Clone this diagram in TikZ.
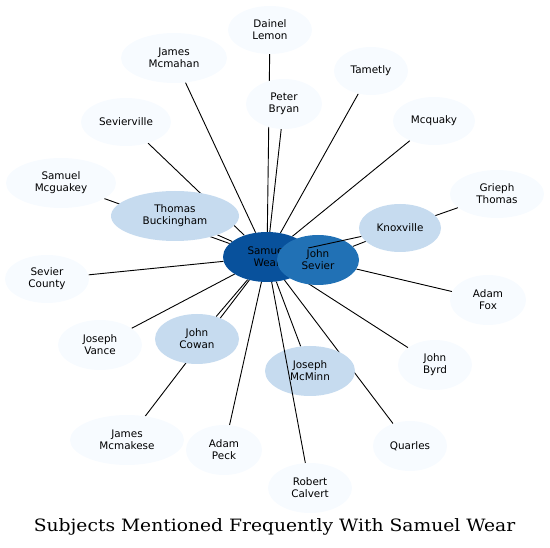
\documentclass[tikz,border=0pt]{standalone}
\usepackage{fontspec}
\setsansfont{DejaVu Sans}
\newfontfamily\titlefont{DejaVu Serif}
\usetikzlibrary{shapes.geometric}
\definecolor{pale}{HTML}{F7FBFF}
\definecolor{light}{HTML}{C6DBEF}
\definecolor{mid}{HTML}{2171B5}
\definecolor{deep}{HTML}{08519C}
\pgfdeclarelayer{bg}
\pgfsetlayers{bg,main}
\tikzset{
  nd/.style={ellipse, fill=pale, draw=none, inner sep=0pt, align=center,
    font=\sffamily\fontsize{10.4}{11.8}\selectfont, text=black},
  lt/.style={nd, fill=light},
  edge/.style={draw=black, line width=0.9pt},
}
\begin{document}
\begin{tikzpicture}[x=1pt,y=-1pt]
\useasboundingbox (0,0) rectangle (550,548);
% nodes
\node[nd, minimum width=84, minimum height=48] (dl) at (270,30) {Dainel\\Lemon};
\node[nd, minimum width=106, minimum height=50] (jm) at (174,58) {James\\Mcmahan};
\node[nd, minimum width=76, minimum height=50] (pb) at (284,104) {Peter\\Bryan};
\node[nd, minimum width=74, minimum height=48] (ta) at (371,71) {Tametly};
\node[nd, minimum width=82, minimum height=48] (mq) at (434,121) {Mcquaky};
\node[nd, minimum width=90, minimum height=48] (sv) at (126,122) {Sevierville};
\node[nd, minimum width=110, minimum height=50] (smc) at (61,183) {Samuel\\Mcguakey};
\node[lt, minimum width=128, minimum height=50] (tb) at (175,216) {Thomas\\Buckingham};
\node[nd, minimum width=94, minimum height=48] (gt) at (497,194) {Grieph\\Thomas};
\node[lt, minimum width=82, minimum height=48] (kx) at (400,228) {Knoxville};
\node[nd, fill=deep, minimum width=88, minimum height=50] (sw) at (267,257) {Samuel\\Wear};
\node[nd, fill=mid, minimum width=82, minimum height=50] (js) at (318,260) {John\\Sevier};
\node[nd, minimum width=84, minimum height=48] (sc) at (47,279) {Sevier\\County};
\node[nd, minimum width=76, minimum height=50] (af) at (488,300) {Adam\\Fox};
\node[nd, minimum width=84, minimum height=50] (jv) at (100,345) {Joseph\\Vance};
\node[lt, minimum width=84, minimum height=50] (jc) at (197,339) {John\\Cowan};
\node[lt, minimum width=90, minimum height=50] (jmm) at (310,371) {Joseph\\McMinn};
\node[nd, minimum width=74, minimum height=50] (jb) at (435,365) {John\\Byrd};
\node[nd, minimum width=114, minimum height=50] (jmk) at (127,440) {James\\Mcmakese};
\node[nd, minimum width=76, minimum height=50] (ap) at (224,450) {Adam\\Peck};
\node[nd, minimum width=74, minimum height=50] (qu) at (410,446) {Quarles};
\node[nd, minimum width=84, minimum height=50] (rc) at (310,488) {Robert\\Calvert};
\node[font=\titlefont\fontsize{17}{20}\selectfont, text=black, xscale=1.1] (title) at (274.5,527) {Subjects Mentioned Frequently With Samuel Wear};
% edges beneath nodes
\begin{pgfonlayer}{bg}
\draw[edge] (dl) -- (sw);
\draw[edge] (pb) -- (sw);
\draw[edge] (jm) -- (sw);
\draw[edge] (ta) -- (sw);
\draw[edge] (mq) -- (sw);
\draw[edge] (sv) -- (sw);
\draw[edge] (smc) -- (sw);
\draw[edge] (tb) -- (sw);
\draw[edge] (gt) -- (kx);
\draw[edge] (js) -- (kx);
\draw[edge] (sc) -- (sw);
\draw[edge] (js) -- (af);
\draw[edge] (jv) -- (sw);
\draw[edge] (jc) -- (sw);
\draw[edge] (jmk) -- (sw);
\draw[edge] (ap) -- (sw);
\draw[edge] (jmm) -- (sw);
\draw[edge] (qu) -- (sw);
\draw[edge] (jb) -- (sw);
\end{pgfonlayer}
% edges drawn over nodes
\draw[edge] (sw) -- (kx);
\draw[edge] (rc) -- (sw);
\end{tikzpicture}
\end{document}
